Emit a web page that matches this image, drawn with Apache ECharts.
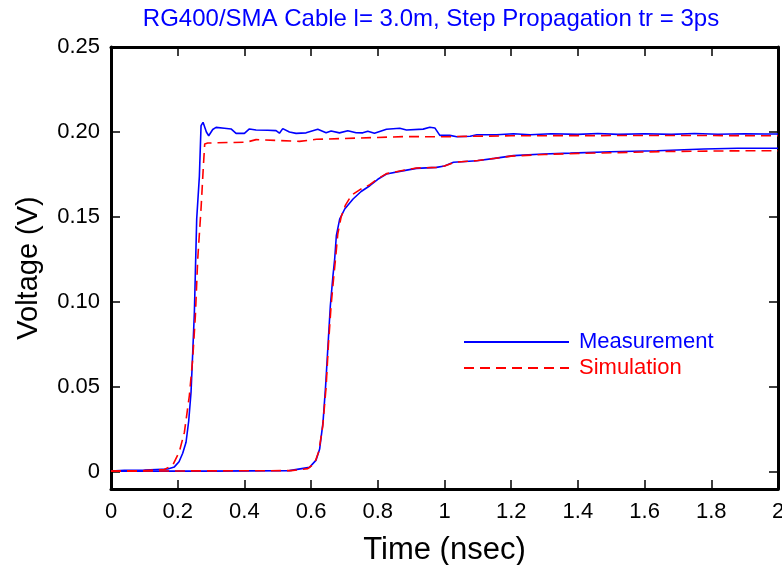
<!DOCTYPE html>
<html><head><meta charset="utf-8">
<script src="https://cdn.jsdelivr.net/npm/echarts@6/dist/echarts.min.js"></script>
<style>html,body{margin:0;padding:0;background:#fff}#c{width:782px;height:565px}</style>
</head><body><div id="c"></div>
<script>
const titleText = 'RG400/SMA Cable l= 3.0m, Step Propagation tr = 3ps';
const xTicks = [0, 0.2, 0.4, 0.6, 0.8, 1, 1.2, 1.4, 1.6, 1.8, 2];
const yTicks = [0, 0.05, 0.10, 0.15, 0.20, 0.25];

// Measurement, first (near-end) step
const meas1T = [0,0.04,0.10,0.17,0.19,0.204,0.215,0.225,0.233,0.240,0.245,0.250,0.253,0.257,0.265,0.270,0.276,0.280,0.286,0.293,0.305,0.315,0.340,0.360,0.375,0.400,0.415,0.435,0.470,0.495,0.505,0.515,0.535,0.555,0.585,0.620,0.645,0.660,0.685,0.710,0.735,0.755,0.770,0.790,0.826,0.866,0.886,0.936,0.956,0.971,0.986,1.016,1.037,1.077,1.097,1.157,1.207,1.257,1.32,1.40,1.46,1.52,1.60,1.68,1.75,1.82,1.90,1.96,2.0];
const meas1V = [0.0005,0.001,0.0012,0.0018,0.003,0.006,0.011,0.0175,0.030,0.047,0.070,0.094,0.1176,0.149,0.174,0.2037,0.2057,0.2055,0.200,0.1978,0.2015,0.2027,0.2022,0.2018,0.1992,0.1992,0.2018,0.2012,0.2010,0.2008,0.1993,0.2020,0.2000,0.1992,0.1995,0.2016,0.1995,0.2006,0.1995,0.2007,0.1996,0.1995,0.2005,0.1992,0.2016,0.2022,0.2012,0.2017,0.2028,0.2024,0.1980,0.1980,0.1972,0.1975,0.1984,0.1984,0.1990,0.1984,0.1990,0.1986,0.1991,0.1986,0.1990,0.1986,0.1991,0.1987,0.1990,0.1988,0.1988];
// Simulation, first step
const sim1T = [0,0.10,0.16,0.185,0.205,0.220,0.235,0.245,0.253,0.260,0.270,0.277,0.281,0.29,0.35,0.405,0.435,0.50,0.565,0.616,0.70,0.80,0.876,1.0,1.2,1.5,1.8,2.0];
const sim1V = [0.0005,0.0008,0.0015,0.004,0.012,0.0233,0.045,0.0665,0.092,0.125,0.155,0.180,0.193,0.1935,0.1938,0.194,0.1955,0.1950,0.1945,0.1957,0.1962,0.1968,0.1973,0.1972,0.1978,0.1979,0.1979,0.1978];
// Measurement, second (far-end) step
const meas2T = [0,0.3,0.535,0.595,0.615,0.6256,0.6356,0.6436,0.6506,0.6577,0.6656,0.6707,0.6757,0.6857,0.7008,0.7258,0.75,0.776,0.80,0.826,0.87,0.916,0.976,1.0,1.027,1.097,1.15,1.207,1.297,1.377,1.498,1.638,1.778,1.879,2.0];
const meas2V = [0.0005,0.0005,0.0008,0.0027,0.007,0.0135,0.029,0.0508,0.0743,0.0978,0.1155,0.1253,0.139,0.1488,0.1547,0.1606,0.1650,0.1684,0.1722,0.1753,0.1770,0.1786,0.1792,0.1800,0.1822,0.1831,0.1845,0.1861,0.1871,0.1876,0.1884,0.1890,0.1900,0.1904,0.1904];
// Simulation, second step
const sim2T = [0,0.54,0.59,0.61,0.623,0.635,0.645,0.652,0.660,0.668,0.674,0.680,0.690,0.703,0.722,0.75,0.776,0.80,0.826,0.87,0.916,0.976,1.0,1.03,1.1,1.2,1.3,1.4,1.5,1.65,1.8,1.95,2.0];
const sim2V = [0.0005,0.0008,0.002,0.005,0.012,0.027,0.050,0.075,0.098,0.115,0.127,0.140,0.150,0.157,0.163,0.1665,0.169,0.1725,0.1755,0.1772,0.1788,0.1792,0.180,0.1822,0.1832,0.1858,0.1868,0.1874,0.1878,0.1885,0.1888,0.1890,0.1890];

const pairs = (t, v) => t.map((x, i) => [x, v[i]]);
const BLUE = '#0000ff', RED = '#ff0000';
const blueLine = { color: BLUE, width: 1.6, type: 'solid' };
const redLine = { color: RED, width: 1.6, type: [10, 6] };

const chart = echarts.init(document.getElementById('c'), null, { renderer: 'canvas' });
const axisFont = { fontFamily: 'Liberation Sans', fontSize: 22, color: '#000' };
chart.setOption({
  animation: false,
  backgroundColor: '#fff',
  title: {
    text: titleText, left: 426, top: 2, textAlign: 'center',
    textStyle: { color: BLUE, fontFamily: 'Liberation Sans', fontSize: 24, fontWeight: 'normal' }
  },
  legend: {
    orient: 'vertical', left: 458, top: 326, itemWidth: 105, itemHeight: 14, itemGap: 4,
    itemStyle: { opacity: 0 },
    textStyle: { fontFamily: 'Liberation Sans', fontSize: 22, padding: [0, 0, 0, 5] },
    data: [
      { name: 'Measurement', textStyle: { color: BLUE } },
      { name: 'Simulation', textStyle: { color: RED } }
    ]
  },
  grid: { left: 111, right: 4, top: 47, bottom: 76, show: false, outerBoundsMode: 'none', containLabel: false },
  xAxis: [{
    type: 'value', min: 0, max: 2, interval: 0.2, position: 'bottom',
    name: 'Time (nsec)', nameLocation: 'middle', nameGap: 46,
    nameTextStyle: { fontFamily: 'Liberation Sans', fontSize: 31, color: '#000' },
    axisLine: { show: true, onZero: false, lineStyle: { color: '#000', width: 3 } },
    axisTick: { show: true, inside: true, length: 9, lineStyle: { color: '#000', width: 1.5 } },
    axisLabel: Object.assign({ margin: 12, formatter: v => String(+v.toFixed(1)) }, axisFont),
    splitLine: { show: false }
  }, {
    type: 'value', min: 0, max: 2, interval: 0.2, position: 'top',
    axisLine: { show: true, onZero: false, lineStyle: { color: '#000', width: 3 } },
    axisTick: { show: true, inside: true, length: 9, lineStyle: { color: '#000', width: 1.5 } },
    axisLabel: { show: false }, splitLine: { show: false }
  }],
  yAxis: [{
    type: 'value', min: -0.01, max: 0.25, position: 'left',
    name: 'Voltage (V)', nameLocation: 'middle', nameGap: 68, nameRotate: 90,
    nameTextStyle: { fontFamily: 'Liberation Sans', fontSize: 29, color: '#000' },
    axisLine: { show: true, onZero: false, lineStyle: { color: '#000', width: 3 } },
    axisTick: { show: true, inside: true, length: 9, customValues: yTicks, lineStyle: { color: '#000', width: 1.5 } },
    axisLabel: Object.assign({ margin: 11, customValues: yTicks, formatter: v => (Math.abs(v) < 1e-9 ? '0' : v.toFixed(2)) }, axisFont),
    splitLine: { show: false }
  }, {
    type: 'value', min: -0.01, max: 0.25, position: 'right',
    axisLine: { show: true, onZero: false, lineStyle: { color: '#000', width: 3 } },
    axisTick: { show: true, inside: true, length: 9, customValues: yTicks, lineStyle: { color: '#000', width: 1.5 } },
    axisLabel: { show: false }, splitLine: { show: false }
  }],
  series: [
    { name: 'Measurement', type: 'line', data: pairs(meas1T, meas1V), showSymbol: false, symbol: 'none', lineStyle: blueLine, itemStyle: { color: BLUE }, z: 2 },
    { name: 'Measurement', type: 'line', data: pairs(meas2T, meas2V), showSymbol: false, symbol: 'none', lineStyle: blueLine, itemStyle: { color: BLUE }, z: 2 },
    { name: 'Simulation', type: 'line', data: pairs(sim1T, sim1V), showSymbol: false, symbol: 'none', lineStyle: redLine, itemStyle: { color: RED }, z: 3 },
    { name: 'Simulation', type: 'line', data: pairs(sim2T, sim2V), showSymbol: false, symbol: 'none', lineStyle: redLine, itemStyle: { color: RED }, z: 3 }
  ]
});
</script></body></html>
